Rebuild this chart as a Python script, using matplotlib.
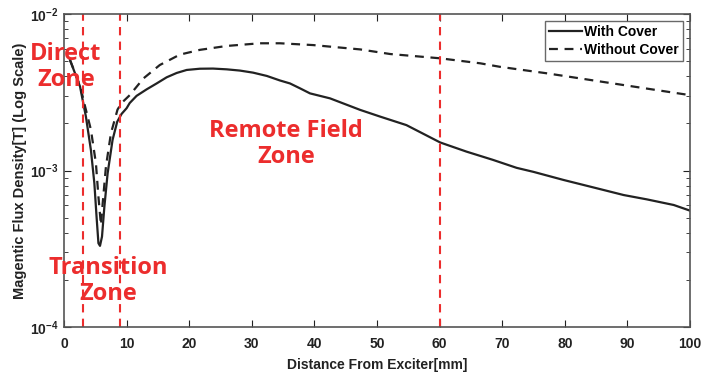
import matplotlib
matplotlib.use("Agg")
import matplotlib.pyplot as plt
import numpy as np

# ---- data ----
x_with = [0.96, 1.76, 2.56, 3.5, 4.3, 4.85, 5.2, 5.5, 5.75, 6.07, 6.45, 6.97, 7.76, 8.5, 9.2,
          10.0, 10.5, 11.6, 13.2, 14.8, 16.4, 18.0, 19.6, 21.7, 23.8, 26.0, 28.1, 30.2, 32.4,
          34.5, 36.1, 37.7, 39.3, 42.5, 47.3, 50.5, 54.7, 60.1, 64.3, 68.5, 72.3, 75.0, 79.8,
          85.1, 89.4, 93.1, 97.4, 100.0]
y_with = [5.08e-3, 4.18e-3, 3.44e-3, 2.21e-3, 1.35e-3, 8.28e-4, 5.07e-4, 3.43e-4, 3.3e-4, 3.78e-4,
          5.87e-4, 9.6e-4, 1.57e-3, 2.05e-3, 2.3e-3, 2.5e-3, 2.7e-3, 3.0e-3, 3.3e-3, 3.6e-3,
          3.94e-3, 4.2e-3, 4.39e-3, 4.47e-3, 4.48e-3, 4.43e-3, 4.35e-3, 4.22e-3, 4.02e-3,
          3.76e-3, 3.6e-3, 3.35e-3, 3.11e-3, 2.89e-3, 2.44e-3, 2.21e-3, 1.95e-3, 1.51e-3,
          1.32e-3, 1.17e-3, 1.04e-3, 9.8e-4, 8.7e-4, 7.7e-4, 6.97e-4, 6.54e-4, 6.02e-4, 5.54e-4]

x_without = [0.96, 1.76, 2.6, 3.24, 4.3, 5.1, 5.5, 5.9, 6.18, 6.7, 7.5, 8.55, 9.2, 10.5, 12.7,
             15.3, 18.5, 21.7, 26.0, 31.3, 34.5, 39.8, 47.3, 52.1, 60.1, 66.5, 69.6, 77.1,
             87.7, 100.0]
y_without = [5.08e-3, 4.2e-3, 3.45e-3, 2.69e-3, 1.82e-3, 1.11e-3, 6.8e-4, 4.49e-4, 6.17e-4,
             1.06e-3, 1.73e-3, 2.45e-3, 2.7e-3, 3.03e-3, 3.88e-3, 4.72e-3, 5.5e-3, 5.9e-3,
             6.25e-3, 6.5e-3, 6.5e-3, 6.33e-3, 5.94e-3, 5.55e-3, 5.21e-3, 4.84e-3, 4.6e-3,
             4.18e-3, 3.6e-3, 3.03e-3]

zone_bounds = [3, 9, 60]
xticks = [0, 10, 20, 30, 40, 50, 60, 70, 80, 90, 100]

RED = "#ec2d2d"
plt.rcParams['font.family'] = ['Liberation Sans', 'DejaVu Sans']

fig = plt.figure(figsize=(7.16, 3.76), dpi=100)
ax = fig.add_axes([64/716, 1-327/376, (690-64)/716, (327-14)/376])

ax.plot(x_with, y_with, color='#222222', lw=1.6, label='With Cover')
ax.plot(x_without, y_without, color='#222222', lw=1.6, ls=(0, (4, 3)), label='Without Cover')

for xb in zone_bounds:
    ax.axvline(xb, color=RED, lw=1.5, ls=(0, (4, 3)))

ax.set_yscale('log')
ax.set_xlim(0, 100)
ax.set_ylim(1e-4, 1e-2)
ax.set_xticks(xticks)
ax.tick_params(which='both', direction='in', top=True, right=True, labelsize=10, colors='#222222')
ax.tick_params(which='major', length=5)
ax.tick_params(which='minor', length=3)
ax.tick_params(axis='x', which='major', pad=7)
ax.tick_params(axis='y', which='major', pad=4)
for lab in ax.get_xticklabels() + ax.get_yticklabels():
    lab.set_fontweight('bold')
for s in ax.spines.values():
    s.set_color('#555555')
    s.set_linewidth(1.2)

ax.set_xlabel('Distance From Exciter[mm]', fontsize=10, fontweight='bold', color='#222222',
              labelpad=5)
ax.set_ylabel('Magentic Flux Density[T] (Log Scale)', fontsize=10.5, fontweight='bold',
              color='#222222', labelpad=2)

leg = ax.legend(loc='upper right', prop={'weight': 'bold', 'size': 10},
                fancybox=False, edgecolor='#444444', handlelength=2.4, handletextpad=0.15,
                borderpad=0.3, labelspacing=0.3, borderaxespad=0.5)
leg.get_frame().set_linewidth(1.0)

tfont = dict(color=RED, fontsize=17, fontweight='bold', family=['Open Sans', 'DejaVu Sans'],
             ha='center', va='center', linespacing=1.1)
ax.text(0.3, 10**(-2.0 - (67-14)/156.5), 'Direct\nZone', **tfont)
ax.text(7.0, 10**(-2.0 - (281-14)/156.5), 'Transition\nZone', **tfont)
ax.text(35.5, 10**(-2.0 - (144-14)/156.5), 'Remote Field\nZone', **tfont)

fig.savefig('out.png', dpi=100)
